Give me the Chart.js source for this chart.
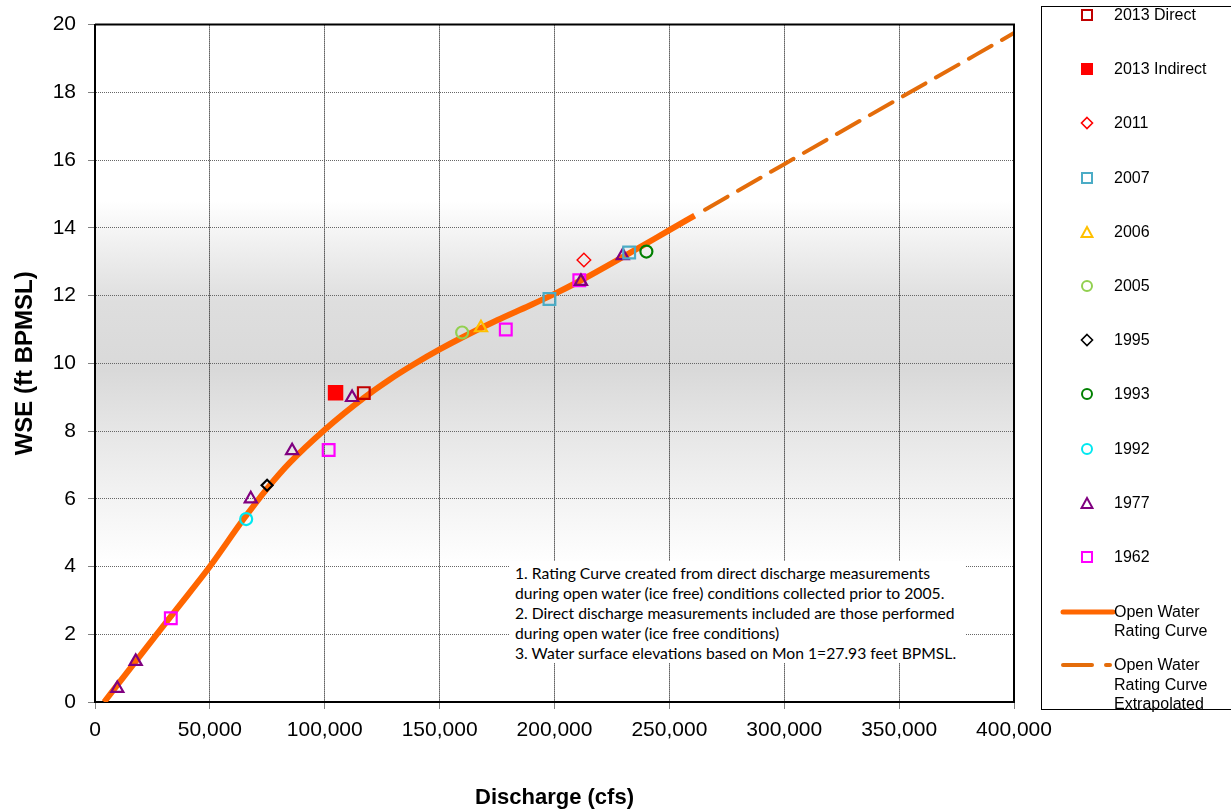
<!DOCTYPE html>
<html>
<head>
<meta charset="utf-8">
<script src="https://cdn.jsdelivr.net/npm/chart.js@4.4.1/dist/chart.umd.min.js"></script>
<style>
  body { margin: 0; background: #fff; font-family: "Liberation Sans", Arial, sans-serif; }
  #wrap { position: relative; width: 1231px; height: 811px; overflow: hidden; }
  #notes {
    position: absolute; left: 510px; top: 561px; width: 455px; height: 102px;
    background: #fff; font-family: Lato, "Open Sans", sans-serif; font-size: 15.7px;
    line-height: 20px; padding: 2px 0 0 5px; box-sizing: border-box; color: #000; white-space: nowrap;
  }
  #legend {
    position: absolute; left: 1041px; top: 6px; width: 230px; height: 704px;
    border: 1px solid #000; box-sizing: border-box; background: #fff;
  }
  .item { position: absolute; left: 0; font-size: 16px; color: #000; line-height: 19.5px; }
  .item svg { position: absolute; }
  .item span { position: absolute; left: 72px; white-space: nowrap; }
</style>
</head>
<body>
<div id="wrap">
  <canvas id="myChart" width="1231" height="811"></canvas>
  <div id="notes">
    1. Rating Curve created from direct discharge measurements<br>
    during open water (ice free) conditions collected prior to 2005.<br>
    2. Direct discharge measurements included are those performed<br>
    during open water (ice free conditions)<br>
    3. Water surface elevations based on Mon 1=27.93 feet BPMSL.
  </div>
  <div id="legend"></div>
</div>
<script>
// rating curve
const curveQ   = [4000, 20000, 35000, 50000, 65000, 75000, 85000, 100000, 117000, 128000, 139000, 150000, 160000, 175000, 189000, 200000, 211000, 230000, 250000, 261000];
const curveWSE = [0, 1.4, 2.7, 4.0, 5.43, 6.31, 7.08, 8.04, 8.98, 9.51, 9.98, 10.41, 10.77, 11.27, 11.7, 12.05, 12.43, 13.15, 13.93, 14.36];
const extrapQ   = [261000, 300000, 350000, 400000];
const extrapWSE = [14.36, 15.88, 17.82, 19.75];

// measurements
const q2013Direct = [117000];           const wse2013Direct = [9.12];
const q2013Indirect = [104700];         const wse2013Indirect = [9.13];
const q2011 = [212800];                 const wse2011 = [13.05];
const q2007 = [197800, 232500];         const wse2007 = [11.9, 13.27];
const q2006 = [168000];                 const wse2006 = [11.05];
const q2005 = [159800];                 const wse2005 = [10.91];
const q1995 = [74900];                  const wse1995 = [6.4];
const q1993 = [240000];                 const wse1993 = [13.3];
const q1992 = [65800];                  const wse1992 = [5.4];
const q1977 = [9700, 17700, 67800, 85800, 111900, 211500, 229700];
const wse1977 = [0.4, 1.2, 6.0, 7.42, 8.99, 12.42, 13.18];
const q1962 = [33000, 101700, 178800, 210800];
const wse1962 = [2.47, 7.44, 11.0, 12.45];

const xTicks = [0, 50000, 100000, 150000, 200000, 250000, 300000, 350000, 400000];
const yTicks = [0, 2, 4, 6, 8, 10, 12, 14, 16, 18, 20];

const seriesNames = ['2013 Direct', '2013 Indirect', '2011', '2007', '2006', '2005', '1995', '1993', '1992', '1977', '1962'];
const seriesQ   = [q2013Direct, q2013Indirect, q2011, q2007, q2006, q2005, q1995, q1993, q1992, q1977, q1962];
const seriesWSE = [wse2013Direct, wse2013Indirect, wse2011, wse2007, wse2006, wse2005, wse1995, wse1993, wse1992, wse1977, wse1962];
const seriesColor = ['#c00000', '#ff0000', '#ff0000', '#4bacc6', '#ffc000', '#92d050', '#000000', '#008000', '#00e8f0', '#800080', '#ff00ff'];
const seriesShape = ['rect', 'rect', 'rectRot', 'rect', 'triangle', 'circle', 'rectRot', 'circle', 'circle', 'triangle', 'rect'];
const seriesFill  = [false, true, false, false, false, false, false, false, false, false, false];
const seriesSize  = [8.3, 9.4, 6.8, 8.3, 7, 6, 5.5, 6, 6, 7, 8.3];

function toPoints(xs, ys) {
    return xs.map((x, i) => ({x: x, y: ys[i]}));
}

const datasets = [];
seriesNames.forEach((name, i) => {
    datasets.push({
        label: name,
        data: toPoints(seriesQ[i], seriesWSE[i]),
        showLine: false,
        pointStyle: seriesShape[i],
        pointRadius: seriesSize[i],
        pointHoverRadius: seriesSize[i],
        pointBorderWidth: i === 2 ? 1.4 : 2.2,
        pointBorderColor: seriesColor[i],
        pointBackgroundColor: seriesFill[i] ? seriesColor[i] : 'rgba(0,0,0,0)'
    });
});
datasets.push({
    label: 'Open Water Rating Curve',
    data: toPoints(curveQ, curveWSE),
    showLine: true,
    borderColor: '#ff6600',
    borderWidth: 6,
    pointRadius: 0,
    cubicInterpolationMode: 'monotone',
    borderCapStyle: 'butt'
});
datasets.push({
    label: 'Open Water Rating Curve Extrapolated',
    data: toPoints(extrapQ, extrapWSE),
    showLine: true,
    borderColor: '#e46c0a',
    borderWidth: 4,
    borderDash: [26, 12],
    borderDashOffset: -12,
    borderCapStyle: 'round',
    pointRadius: 0,
    cubicInterpolationMode: 'monotone'
});

const plotBackground = {
    id: 'plotBackground',
    beforeDraw(chart) {
        const {ctx, chartArea: a} = chart;
        const g = ctx.createLinearGradient(0, a.top, 0, a.bottom);
        g.addColorStop(0, '#ffffff');
        g.addColorStop(0.26, '#ffffff');
        g.addColorStop(0.32, '#f1f1f1');
        g.addColorStop(0.41, '#dedede');
        g.addColorStop(0.51, '#d9d9d9');
        g.addColorStop(0.60, '#e6e6e6');
        g.addColorStop(0.70, '#f3f3f3');
        g.addColorStop(0.80, '#ffffff');
        g.addColorStop(1, '#ffffff');
        ctx.save();
        ctx.fillStyle = g;
        ctx.fillRect(a.left, a.top, a.right - a.left, a.bottom - a.top);
        ctx.restore();
    },
    afterDraw(chart) {
        const {ctx, chartArea: a} = chart;
        ctx.save();
        ctx.strokeStyle = '#000';
        ctx.lineWidth = 2;
        ctx.beginPath();
        ctx.moveTo(a.left, a.top);
        ctx.lineTo(a.right, a.top);
        ctx.lineTo(a.right, a.bottom);
        ctx.stroke();
        ctx.restore();
    }
};

Chart.defaults.font.family = '"Liberation Sans", Arial, sans-serif';
Chart.defaults.color = '#000';

let ctx = document.getElementById('myChart').getContext('2d');
let myChart = new Chart(ctx, {
    type: 'scatter',
    data: {datasets: datasets},
    options: {
        responsive: false,
        animation: false,
        events: [],
        layout: {padding: {top: 22, right: 217, left: 0, bottom: 0}},
        plugins: {legend: {display: false}, tooltip: {enabled: false}},
        scales: {
            x: {
                type: 'linear',
                min: 0,
                max: 400000,
                afterBuildTicks: (s) => { s.ticks = xTicks.map(v => ({value: v})); },
                afterFit: (s) => { s.height = 109; },
                ticks: {font: {size: 21}, padding: 9,
                    callback: (v) => v.toLocaleString('en-US')},
                grid: {color: '#000', lineWidth: 1, tickLength: 7, tickColor: '#808080', tickBorderDash: []},
                border: {color: '#000', width: 2, dash: [1, 1]},
                title: {display: true, text: 'Discharge (cfs)', font: {size: 22, weight: 'bold'}, padding: {top: 0, bottom: 0}}
            },
            y: {
                type: 'linear',
                min: 0,
                max: 20,
                afterBuildTicks: (s) => { s.ticks = yTicks.map(v => ({value: v})); },
                afterFit: (s) => { s.width = 95; },
                ticks: {font: {size: 21}, padding: 12},
                grid: {color: '#666', lineWidth: 1, tickLength: 7, tickColor: '#808080', tickBorderDash: []},
                border: {color: '#000', width: 2, dash: [1, 1]},
                title: {display: true, text: 'WSE (ft BPMSL)', font: {size: 24, weight: 'bold'}, padding: {top: 11, bottom: 0}}
            }
        }
    },
    plugins: [plotBackground]
});

// legend built beside the chart
function markerSvg(shape, color, fill) {
    let inner = '';
    if (shape === 'rect') inner = `<rect x="2" y="2" width="10" height="10" fill="${fill ? color : 'none'}" stroke="${color}" stroke-width="2"/>`;
    if (shape === 'rectRot') inner = `<polygon points="7,1.5 12.5,7 7,12.5 1.5,7" fill="none" stroke="${color}" stroke-width="1.6"/>`;
    if (shape === 'triangle') inner = `<polygon points="7,2 12.5,12 1.5,12" fill="none" stroke="${color}" stroke-width="2"/>`;
    if (shape === 'circle') inner = `<circle cx="7" cy="7" r="5" fill="none" stroke="${color}" stroke-width="2"/>`;
    return `<svg width="14" height="14" style="left:38px;top:3px">${inner}</svg>`;
}

const legend = document.getElementById('legend');
seriesNames.forEach((name, i) => {
    const d = document.createElement('div');
    d.className = 'item';
    d.style.top = (8 + i * 54.2 - 10) + 'px';
    d.innerHTML = markerSvg(seriesShape[i], seriesColor[i], seriesFill[i]) + `<span>${name}</span>`;
    legend.appendChild(d);
});
const lineItems = [
    {text: 'Open Water<br>Rating Curve', top: 604.7 - 10, dashed: false},
    {text: 'Open Water<br>Rating Curve<br>Extrapolated', top: 658 - 10, dashed: true}
];
lineItems.forEach(it => {
    const d = document.createElement('div');
    d.className = 'item';
    d.style.top = it.top + 'px';
    const svg = it.dashed
        ? `<svg width="60" height="10" style="left:18px;top:5px"><line x1="3" y1="5" x2="32" y2="5" stroke="#e46c0a" stroke-width="4" stroke-linecap="round"/><line x1="46" y1="5" x2="50" y2="5" stroke="#e46c0a" stroke-width="4" stroke-linecap="round"/></svg>`
        : `<svg width="60" height="10" style="left:18px;top:5px"><line x1="3" y1="5" x2="53" y2="5" stroke="#ff6600" stroke-width="5" stroke-linecap="round"/></svg>`;
    d.innerHTML = svg + `<span>${it.text}</span>`;
    legend.appendChild(d);
});
</script>
</body>
</html>
